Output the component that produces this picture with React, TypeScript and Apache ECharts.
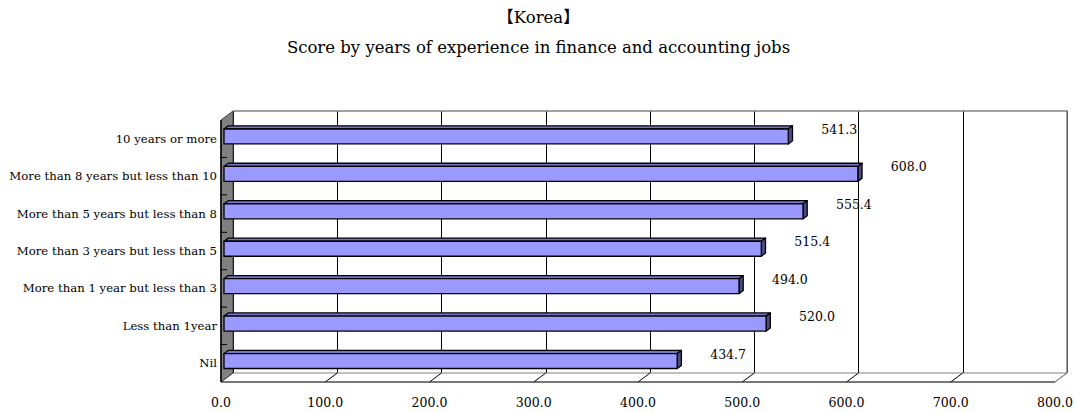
import React, { useEffect, useRef } from "react";
import * as echarts from "echarts";

const titleText = "【Korea】";
const subtitleText = "Score by years of experience in finance and accounting jobs";
const categories = [
  "10 years or more",
  "More than 8 years but less than 10",
  "More than 5 years but less than 8",
  "More than 3 years but less than 5",
  "More than 1 year but less than 3",
  "Less than 1year",
  "Nil",
];
const scores = [541.3, 608.0, 555.4, 515.4, 494.0, 520.0, 434.7];
const xMin = 0;
const xMax = 800;
const xStep = 100;

const FONT = '"DejaVu Serif", "Liberation Serif", "Noto Sans CJK KR", serif';
const DEPTH_X = 12;
const DEPTH_Y = 9;
const BAR_FRONT = 0.25;
const BAR_BACK = 0.6;
const BAR_RATIO = 0.4;

export default function App() {
  const ref = useRef<HTMLDivElement>(null);

  useEffect(() => {
    if (!ref.current) return;
    const chart = echarts.init(ref.current, undefined, { renderer: "svg" });

    const tickValues: number[] = [];
    for (let v = xMin; v <= xMax; v += xStep) tickValues.push(v);

    const wallsRender = (params: any, api: any) => {
      const cs = params.coordSys;
      const L = cs.x;
      const T = cs.y;
      const R = cs.x + cs.width;
      const B = cs.y + cs.height;
      const band = api.size([0, 1])[1];
      const children: any[] = [];
      // floor
      children.push({
        type: "polygon",
        shape: { points: [[L, B], [R, B], [R + DEPTH_X, B - DEPTH_Y], [L + DEPTH_X, B - DEPTH_Y]] },
        style: { fill: "#ffffff", stroke: "#808080", lineWidth: 1 },
      });
      // floor diagonals
      tickValues.forEach((v) => {
        if (v === xMin) return;
        const px = api.coord([v, 0])[0];
        children.push({
          type: "line",
          shape: { x1: px, y1: B, x2: px + DEPTH_X, y2: B - DEPTH_Y },
          style: { stroke: v === xMax ? "#808080" : "#000000", lineWidth: 1 },
        });
      });
      // floor front edge
      children.push({
        type: "line",
        shape: { x1: L, y1: B, x2: R, y2: B },
        style: { stroke: "#303030", lineWidth: 1 },
      });
      // back wall top & right border
      children.push({
        type: "polyline",
        shape: { points: [[L + DEPTH_X, T - DEPTH_Y], [R + DEPTH_X, T - DEPTH_Y], [R + DEPTH_X, B - DEPTH_Y]] },
        style: { stroke: "#808080", lineWidth: 1.5, fill: "none" },
      });
      // side wall
      children.push({
        type: "polygon",
        shape: { points: [[L, T], [L + DEPTH_X, T - DEPTH_Y], [L + DEPTH_X, B - DEPTH_Y], [L, B]] },
        style: { fill: "#808080", stroke: "#404040", lineWidth: 1 },
      });
      children.push({
        type: "line",
        shape: { x1: L, y1: T, x2: L, y2: B },
        style: { stroke: "#000000", lineWidth: 1.5 },
      });
      // category ticks
      for (let k = 1; k < categories.length; k++) {
        const yy = api.coord([0, k])[1] - band / 2;
        children.push({
          type: "line",
          shape: { x1: L - 1, y1: yy, x2: L + 6, y2: yy },
          style: { stroke: "#000000", lineWidth: 1 },
        });
      }
      return { type: "group", children };
    };

    const barRender = (params: any, api: any) => {
      const v = api.value(0);
      const ci = api.value(1);
      const start = api.coord([0, ci]);
      const end = api.coord([v, ci]);
      const band = api.size([0, 1])[1];
      const h = band * BAR_RATIO;
      const fx = BAR_FRONT * DEPTH_X;
      const fy = -BAR_FRONT * DEPTH_Y;
      const ddx = (BAR_BACK - BAR_FRONT) * DEPTH_X;
      const ddy = -(BAR_BACK - BAR_FRONT) * DEPTH_Y;
      const x0 = start[0] + fx;
      const x1 = end[0] + fx;
      const y0 = start[1] - h / 2 + fy;
      const y1 = start[1] + h / 2 + fy;
      const stroke = { stroke: "#000000", lineWidth: 1.3, lineJoin: "round" };
      return {
        type: "group",
        children: [
          {
            type: "polygon",
            shape: { points: [[x0, y0], [x1, y0], [x1 + ddx, y0 + ddy], [x0 + ddx, y0 + ddy]] },
            style: { fill: "#7575C8", ...stroke },
          },
          {
            type: "polygon",
            shape: { points: [[x1, y0], [x1 + ddx, y0 + ddy], [x1 + ddx, y1 + ddy], [x1, y1]] },
            style: { fill: "#4D4D80", ...stroke },
          },
          {
            type: "rect",
            shape: { x: x0, y: y0, width: x1 - x0, height: h },
            style: { fill: "#9999FF", ...stroke },
          },
          {
            type: "text",
            x: x1 + 33,
            y: (y0 + y1) / 2 - 7,
            style: {
              text: v.toFixed(1),
              fill: "#000000",
              fontSize: 12.5,
              fontFamily: FONT,
              align: "left",
              verticalAlign: "middle",
            },
          },
        ],
      };
    };

    chart.setOption({
      animation: false,
      backgroundColor: "#ffffff",
      title: {
        text: titleText,
        subtext: subtitleText,
        left: "center",
        top: 2,
        itemGap: 10,
        textStyle: { fontSize: 16.5, fontWeight: "normal", color: "#000000", fontFamily: FONT, lineHeight: 20 },
        subtextStyle: { fontSize: 16.5, color: "#000000", fontFamily: FONT, lineHeight: 20 },
      },
      grid: [
        { left: 221, right: 22, top: 120, bottom: 30 },
        { left: 233, right: 10, top: 111, bottom: 39 },
      ],
      xAxis: [
        {
          type: "value",
          gridIndex: 0,
          min: xMin,
          max: xMax,
          interval: xStep,
          axisLine: { show: false },
          axisTick: { show: false },
          splitLine: { show: false },
          axisLabel: {
            margin: 14,
            fontSize: 12.5,
            fontFamily: FONT,
            color: "#000000",
            formatter: (val: number) => val.toFixed(1),
          },
        },
        {
          type: "value",
          gridIndex: 1,
          min: xMin,
          max: xMax,
          interval: xStep,
          axisLine: { show: false },
          axisTick: { show: false },
          axisLabel: { show: false },
          splitLine: { show: true, lineStyle: { color: "#000000", width: 1 } },
        },
      ],
      yAxis: [
        {
          type: "category",
          gridIndex: 0,
          data: categories,
          inverse: true,
          axisLine: { show: false },
          axisTick: { show: false },
          axisLabel: {
            margin: 4,
            fontSize: 11.7,
            fontFamily: FONT,
            color: "#000000",
            verticalAlign: "middle",
            lineHeight: 14,
            padding: [0, 0, 5, 0],
          },
        },
        {
          type: "category",
          gridIndex: 1,
          data: categories,
          inverse: true,
          show: false,
        },
      ],
      series: [
        {
          type: "custom",
          xAxisIndex: 0,
          yAxisIndex: 0,
          z: 1,
          silent: true,
          data: [[0, 0]],
          renderItem: wallsRender,
        },
        {
          type: "custom",
          xAxisIndex: 0,
          yAxisIndex: 0,
          z: 3,
          data: scores.map((v, i) => [v, i]),
          encode: { x: 0, y: 1 },
          renderItem: barRender,
        },
      ],
    });

    return () => chart.dispose();
  }, []);

  return (
    <div
      ref={ref}
      style={{ position: "fixed", left: 0, top: 0, width: 1077, height: 412, background: "#fff" }}
    />
  );
}
